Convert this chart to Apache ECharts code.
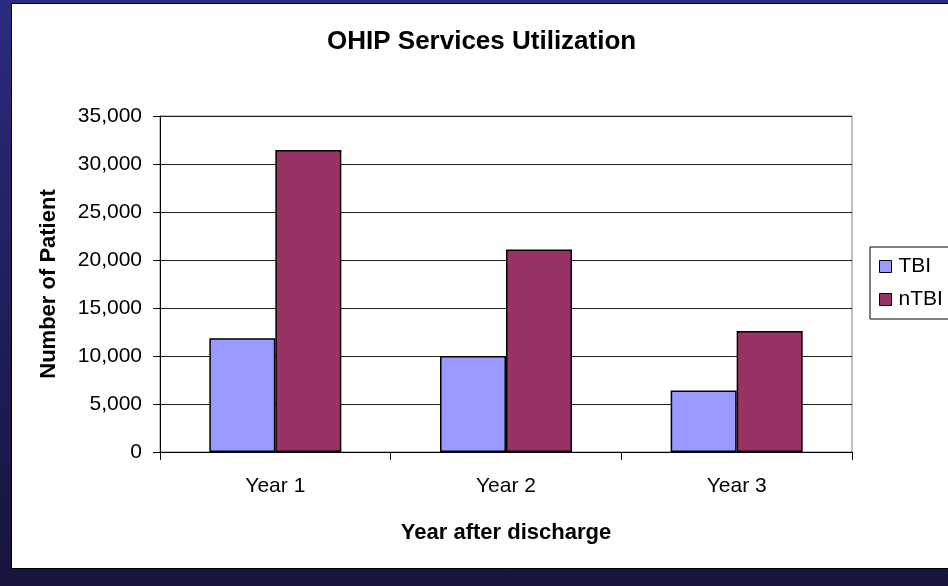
<!DOCTYPE html>
<html>
<head>
<meta charset="utf-8">
<script src="https://cdn.jsdelivr.net/npm/echarts@6/dist/echarts.min.js"></script>
<style>
  html, body { margin: 0; padding: 0; }
  body {
    width: 948px;
    height: 586px;
    overflow: hidden;
    position: relative;
    background: linear-gradient(to bottom, #2b2b82 0%, #1f1f5c 50%, #15153d 100%);
  }
  /* white slide panel */
  #frame {
    position: absolute;
    left: 11px;
    top: 3px;
    width: 937px;
    height: 566px;
    background: #fff;
    border-left: 1px solid #000;
    border-top: 1px solid #000;
    border-bottom: 1px solid #000;
    box-sizing: border-box;
  }
  #chart {
    position: absolute;
    left: 0;
    top: 0;
    width: 948px;
    height: 586px;
  }
</style>
</head>
<body>
<div id="frame"></div>
<div id="chart"></div>
<script>
var categories = ['Year 1', 'Year 2', 'Year 3']
var tbiValues = [11850, 10000, 6400]
var ntbiValues = [31450, 21100, 12600]
var yTicks = [0, 5000, 10000, 15000, 20000, 25000, 30000, 35000]

var font = 'Liberation Sans, Arial, sans-serif'

var chart = echarts.init(document.getElementById('chart'), null, { renderer: 'canvas' })

chart.setOption({
  backgroundColor: 'transparent',
  animation: false,
  title: {
    text: 'OHIP Services Utilization',
    left: 327,
    top: 29,
    padding: 0,
    textStyle: {
      fontFamily: font,
      fontSize: 26,
      fontWeight: 'bold',
      color: '#000'
    }
  },
  legend: {
    orient: 'vertical',
    left: 870,
    top: 247,
    padding: [9, 10, 9, 9],
    itemGap: 12,
    itemWidth: 12,
    itemHeight: 12,
    borderColor: '#000',
    borderWidth: 1,
    icon: 'rect',
    itemStyle: { borderColor: '#000', borderWidth: 1 },
    textStyle: {
      fontFamily: font,
      fontSize: 21,
      color: '#000',
      padding: [0, 0, 0, 2]
    },
    data: ['TBI', 'nTBI']
  },
  grid: {
    left: 160,
    right: 96,
    top: 116,
    bottom: 134,
    show: true,
    borderColor: '#808080',
    borderWidth: 1,
    backgroundColor: 'transparent'
  },
  xAxis: {
    type: 'category',
    data: categories,
    name: 'Year after discharge',
    nameLocation: 'middle',
    nameGap: 70,
    nameTextStyle: {
      fontFamily: font,
      fontSize: 22,
      fontWeight: 'bold',
      color: '#000'
    },
    axisLine: { lineStyle: { color: '#000', width: 1 } },
    axisTick: { show: true, length: 8, alignWithLabel: false, lineStyle: { color: '#000' } },
    axisLabel: {
      margin: 24,
      fontFamily: font,
      fontSize: 21,
      color: '#000'
    }
  },
  yAxis: {
    type: 'value',
    min: yTicks[0],
    max: yTicks[yTicks.length - 1],
    interval: 5000,
    name: 'Number of Patient',
    nameLocation: 'middle',
    nameGap: 100,
    nameRotate: 90,
    nameTextStyle: {
      fontFamily: font,
      fontSize: 22,
      fontWeight: 'bold',
      color: '#000'
    },
    axisLine: { show: true, lineStyle: { color: '#000', width: 1 } },
    axisTick: { show: true, length: 7, lineStyle: { color: '#000' } },
    axisLabel: {
      margin: 18,
      fontFamily: font,
      fontSize: 21,
      color: '#000',
      formatter: function (v) {
        return v.toString().replace(/\B(?=(\d{3})+(?!\d))/g, ',')
      }
    },
    splitLine: { show: true, lineStyle: { color: '#222', width: 1 } }
  },
  series: [
    {
      name: 'TBI',
      type: 'bar',
      data: tbiValues,
      barWidth: 66,
      barGap: '0%',
      itemStyle: { color: '#9999FF', borderColor: '#000', borderWidth: 1.5 }
    },
    {
      name: 'nTBI',
      type: 'bar',
      data: ntbiValues,
      barWidth: 66,
      barGap: '0%',
      itemStyle: { color: '#993366', borderColor: '#000', borderWidth: 1.5 }
    }
  ]
})
</script>
</body>
</html>
